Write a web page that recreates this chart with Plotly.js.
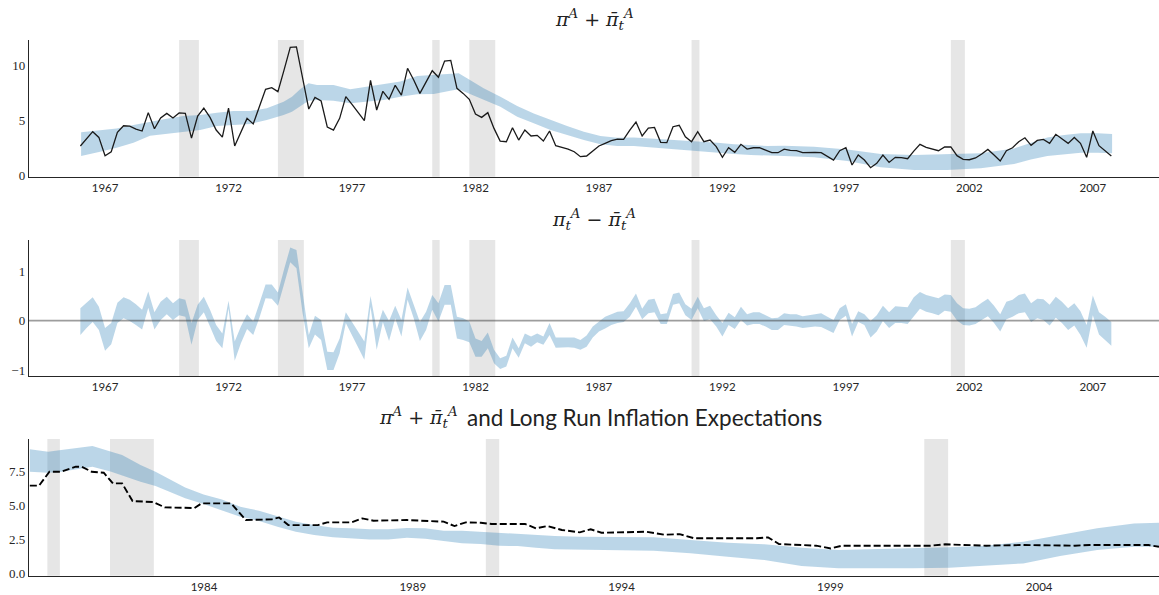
<!DOCTYPE html>
<html><head><meta charset="utf-8">
<script src="https://cdn.plot.ly/plotly-3.0.1.min.js"></script>
<style>html,body{margin:0;padding:0;background:#fff}</style>
</head><body><div id="chart" style="width:1159px;height:595px"></div>
<script>
// ---------------- data ----------------
const START_YEAR = 1966; // first quarter 1966Q1, quarterly series
const inflation = [2.64,3.3,3.94,3.42,1.76,2.12,3.88,4.48,4.45,4.18,4.0,5.67,4.21,5.18,5.6,5.18,5.64,5.6,3.36,5.36,
6.09,5.24,4.09,3.45,6.09,2.64,3.85,5.15,4.64,6.21,7.79,7.94,7.58,9.55,11.6,11.64,8.94,6.0,7.06,6.73,
4.36,4.09,5.15,7.12,6.42,5.7,4.94,8.6,5.91,7.61,6.88,8.15,7.27,9.7,8.64,7.42,8.48,9.48,8.88,10.36,
10.42,7.88,7.42,6.88,5.55,5.24,5.67,4.24,3.09,3.03,4.3,3.18,4.09,3.55,3.61,3.09,4.0,2.67,2.52,2.36,
2.12,1.67,1.73,2.21,2.64,2.88,3.12,3.27,3.24,4.09,4.82,3.55,4.27,4.33,2.97,2.94,4.39,4.52,3.48,3.03,
3.94,3.03,3.18,2.58,1.61,2.48,2.06,2.79,2.36,2.48,2.48,2.27,2.03,2.03,2.36,2.24,2.21,2.03,2.06,2.05,
2.03,1.73,1.36,2.21,2.48,0.91,1.82,1.36,0.67,1.06,1.82,1.15,1.61,1.58,1.48,2.18,2.79,2.52,2.36,2.21,
2.55,2.55,1.76,1.42,1.39,1.55,1.91,2.33,1.82,1.27,2.21,2.48,3.03,3.39,2.7,3.15,3.24,2.88,3.7,3.3,
2.88,3.42,2.88,1.61,4.0,2.67,2.21,1.73];

const trendYears = [1966.03,1966.8,1967.47,1968.15,1968.82,1969.5,1970.17,1970.85,1971.53,1972.2,1972.88,1973.55,1974.23,1974.57,1974.9,1975.24,1975.58,1976.25,1976.93,1977.6,
1978.28,1978.96,1979.64,1980.31,1980.98,1981.32,1981.66,1982.33,1983.01,1983.69,1984.36,1985.04,1985.71,1986.39,1987.06,1987.74,1988.41,1989.09,1989.77,1990.44,
1991.12,1991.8,1992.47,1993.15,1993.82,1994.5,1995.71,1997.06,1998.41,1999.76,2001.11,2002.46,2003.81,2004.49,2005.16,2005.84,2006.51,2007.19,2007.78];
const trendUpper = [3.88,4.09,4.24,4.55,4.85,5.12,5.36,5.45,5.67,5.82,5.82,6.06,6.67,7.12,7.79,8.33,8.18,8.18,7.79,8.03,
8.27,8.5,9.0,9.09,9.24,9.24,8.79,7.88,7.12,6.27,5.6,5.0,4.45,3.94,3.55,3.39,3.42,3.33,3.24,3.18,
3.03,2.94,2.79,2.7,2.64,2.67,2.58,2.33,1.91,1.82,1.88,1.97,2.42,2.94,3.42,3.64,3.79,3.79,3.73];
const trendLower = [1.73,2.12,2.48,2.94,3.58,3.79,3.94,4.09,4.45,4.55,4.64,5.0,5.45,5.76,6.27,6.76,6.82,6.76,6.52,6.67,
6.82,7.12,7.33,7.36,7.67,7.79,7.48,6.82,6.21,5.3,4.7,4.09,3.64,3.18,2.79,2.64,2.64,2.58,2.42,2.33,
2.18,2.03,1.91,1.82,1.76,1.73,1.61,1.27,0.7,0.45,0.45,0.61,1.0,1.42,1.73,1.91,2.03,2.03,1.97];

const gapUpper = [0.25,0.36,0.47,0.28,-0.15,-0.05,0.36,0.47,0.42,0.33,0.22,0.59,0.17,0.38,0.48,0.35,0.45,0.42,-0.05,0.32,
0.48,0.22,-0.09,-0.26,0.40,-0.42,-0.12,0.13,-0.02,0.35,0.73,0.73,0.57,1.04,1.48,1.43,0.59,-0.29,0.10,0.01,
-0.63,-0.64,-0.36,0.17,-0.03,-0.22,-0.42,0.50,-0.18,0.22,-0.01,0.30,0.01,0.67,0.33,-0.03,0.18,0.52,0.35,0.72,
0.72,0.08,0.05,-0.02,-0.36,-0.41,-0.24,-0.59,-0.76,-0.71,-0.34,-0.56,-0.26,-0.32,-0.26,-0.32,-0.05,-0.34,-0.34,-0.34,
-0.34,-0.39,-0.30,-0.12,-0.01,0.08,0.13,0.18,0.19,0.35,0.55,0.24,0.42,0.44,0.13,0.15,0.54,0.57,0.33,0.24,
0.48,0.25,0.30,0.11,-0.05,0.16,0.07,0.28,0.13,0.17,0.17,0.11,0.05,0.06,0.15,0.13,0.13,0.09,0.11,0.13,
0.15,0.08,0.01,0.25,0.33,-0.07,0.19,0.13,-0.01,0.11,0.30,0.17,0.29,0.28,0.27,0.47,0.58,0.52,0.49,0.45,
0.53,0.52,0.35,0.25,0.24,0.27,0.36,0.44,0.30,0.13,0.38,0.42,0.52,0.55,0.35,0.44,0.43,0.32,0.48,0.38,
0.25,0.35,0.19,-0.09,0.51,0.17,0.08,-0.03];
const gapLower = [-0.29,-0.15,-0.03,-0.19,-0.61,-0.48,-0.05,0.05,-0.01,-0.09,-0.18,0.26,-0.18,0.01,0.13,0.01,0.11,0.08,-0.49,0.01,
0.17,-0.12,-0.41,-0.56,0.25,-0.81,-0.46,-0.17,-0.29,0.06,0.45,0.44,0.30,0.72,1.18,1.06,0.15,-0.56,-0.28,-0.39,
-1.0,-1.0,-0.66,-0.05,-0.30,-0.55,-0.79,0.28,-0.59,-0.03,-0.41,0.05,-0.32,0.42,0.05,-0.41,-0.19,0.22,-0.02,0.32,
0.32,-0.36,-0.39,-0.44,-0.73,-0.73,-0.56,-0.86,-0.98,-0.93,-0.56,-0.75,-0.46,-0.53,-0.44,-0.49,-0.29,-0.55,-0.54,-0.54,
-0.55,-0.59,-0.53,-0.34,-0.22,-0.16,-0.09,-0.05,-0.03,0.08,0.28,0.03,0.15,0.17,-0.07,-0.07,0.32,0.35,0.11,0.01,
0.25,-0.01,0.03,-0.12,-0.32,-0.09,-0.17,0.01,-0.10,-0.07,-0.07,-0.12,-0.19,-0.19,-0.09,-0.10,-0.12,-0.15,-0.13,-0.12,
-0.13,-0.19,-0.25,0.01,0.10,-0.32,-0.03,-0.09,-0.34,-0.22,-0.01,-0.15,-0.05,-0.05,-0.07,0.09,0.24,0.18,0.15,0.11,
0.20,0.18,0.00,-0.09,-0.10,-0.07,0.01,0.09,-0.05,-0.22,0.03,0.08,0.15,0.17,-0.03,0.05,0.01,-0.10,0.06,-0.05,
-0.19,-0.10,-0.29,-0.55,0.11,-0.28,-0.39,-0.51];

const lrYears = [1979.83,1980.27,1980.58,1981.33,1981.78,1982.04,1982.48,1982.84,1983.55,1983.99,1984.43,1984.87,1985.32,1985.76,1986.2,1986.64,1987.09,1987.53,1987.97,1988.41,
1988.86,1989.3,1989.74,1990.18,1990.63,1991.07,1991.51,1991.95,1992.4,1993.0,1993.88,1994.77,1995.65,1996.54,1997.42,1998.31,1999.19,2000.08,2000.96,2001.85,
2002.73,2003.62,2004.5,2005.39,2006.27,2006.87];
const lrUpper = [9.09,8.92,9.04,9.33,8.92,8.67,7.94,7.45,6.30,5.79,5.42,4.89,4.59,4.20,3.79,3.54,3.35,3.30,3.23,3.23,
3.32,3.30,3.13,3.13,3.05,2.98,2.93,2.81,2.74,2.69,2.69,2.64,2.44,2.25,2.13,1.88,1.71,1.76,1.83,1.91,
2.03,2.32,2.81,3.30,3.66,3.71];
const lrLower = [7.45,7.38,7.45,7.82,7.45,7.21,6.72,6.40,5.50,5.08,4.64,4.15,3.84,3.42,3.05,2.81,2.64,2.54,2.49,2.49,
2.61,2.54,2.37,2.20,2.15,2.03,2.00,1.88,1.76,1.71,1.71,1.66,1.47,1.22,0.98,0.54,0.37,0.37,0.37,0.42,
0.56,0.73,1.27,1.71,1.95,1.95];

const expYears = [1979.83,1980.05,1980.3,1980.58,1980.93,1981.07,1981.31,1981.6,1981.82,1982.04,1982.29,1982.79,1983.06,1983.77,1983.94,1984.65,1985.0,1985.63,1985.8,1986.02,
1986.73,1986.95,1987.53,1987.79,1988.06,1988.86,1989.74,1990.0,1990.27,1990.63,1990.89,1991.69,1991.95,1992.22,1992.57,1993.0,1993.26,1993.52,1994.59,1995.03,
1995.39,1995.74,1997.24,1997.51,1997.77,1998.66,1999.01,1999.28,2001.4,2001.75,2002.73,2003.62,2004.85,2005.21,2006.62,2006.87];
const expValues = [6.43,6.43,7.45,7.45,7.82,7.82,7.45,7.38,6.60,6.60,5.30,5.23,4.84,4.79,5.13,5.13,3.91,3.96,4.10,3.54,
3.54,3.74,3.74,4.03,3.86,3.91,3.79,3.47,3.74,3.71,3.62,3.62,3.30,3.47,3.18,3.01,3.23,2.98,3.05,2.83,
2.88,2.57,2.57,2.64,2.15,2.03,1.83,2.03,2.03,2.13,2.03,2.08,2.03,2.08,2.08,1.95];

const recessionStart = [1970.0,1974.0,1980.25,1981.75,1990.75,2001.25];
const recessionEnd   = [1970.8,1975.05,1980.55,1982.8,1991.07,2001.82];

const ticksTop = [1967,1972,1977,1982,1987,1992,1997,2002,2007];
const ticksBottom = [1984,1989,1994,1999,2004];

// ---------------- chart ----------------
const quarters = inflation.map((_, i) => START_YEAR + i / 4);
const BAND = 'rgba(31,119,180,0.3)';
const SHADE = 'rgba(128,128,128,0.2)';
const INK = '#262626';

function band(xs, up, lo, xa, ya) {
  return {x: xs.concat(xs.slice().reverse()), y: up.concat(lo.slice().reverse()),
    xaxis: xa, yaxis: ya, mode: 'lines', fill: 'toself', fillcolor: BAND,
    line: {width: 0, color: BAND}, hoverinfo: 'skip', showlegend: false};
}

const traces = [
  band(trendYears, trendUpper, trendLower, 'x', 'y'),
  {x: quarters, y: inflation, xaxis: 'x', yaxis: 'y', mode: 'lines',
   line: {color: '#1a1a1a', width: 1.3}, showlegend: false},
  band(quarters, gapUpper, gapLower, 'x2', 'y2'),
  band(lrYears, lrUpper, lrLower, 'x3', 'y3'),
  {x: expYears, y: expValues, xaxis: 'x3', yaxis: 'y3', mode: 'lines',
   line: {color: '#000', width: 1.9, dash: '7px,3px'}, showlegend: false}
];

const xr12 = [1963.92, 2009.68];
const xr3 = [1979.81, 2006.87];
const shapes = [];
[['x', 'y', xr12], ['x2', 'y2', xr12], ['x3', 'y3', xr3]].forEach(([xa, ya, r]) => {
  recessionStart.forEach((s, k) => {
    const e = recessionEnd[k];
    if (e < r[0] || s > r[1]) return;
    shapes.push({type: 'rect', xref: xa, yref: ya + ' domain', x0: Math.max(s, r[0]), x1: Math.min(e, r[1]),
      y0: 0, y1: 1, fillcolor: SHADE, line: {width: 0}, layer: 'below'});
  });
});
shapes.push({type: 'line', xref: 'x2 domain', yref: 'y2', x0: 0, x1: 1, y0: 0, y1: 0,
  line: {color: 'rgba(60,60,60,0.5)', width: 1.8}, layer: 'above'});

const xFont = {family: 'Lato, sans-serif', size: 11.5, color: INK};
const yFont = {family: 'Liberation Serif, serif', size: 13, color: INK};
function xAxis(range, ticks, anchor) {
  return {domain: [0, 1], range: range, anchor: anchor, tickvals: ticks, ticktext: ticks.map(String),
    showline: true, linecolor: INK, linewidth: 1.4, ticks: '', showgrid: false, zeroline: false,
    tickfont: xFont, fixedrange: true};
}
function yAxis(domain, range, ticks, anchor, fmt) {
  return {domain: domain, range: range, anchor: anchor, tickvals: ticks, tickformat: fmt,
    showline: true, linecolor: INK, linewidth: 1.25, ticks: '', showgrid: false, zeroline: false,
    tickfont: yFont, fixedrange: true};
}

const pbar = 'π\u0304';
const t1 = `<i>π</i><sup><i>A</i></sup> + <i>${pbar}</i><sub><i>t</i></sub><sup><i>A</i></sup>`;
const t2 = `<i>π</i><sub><i>t</i></sub><sup><i>A</i></sup> − <i>${pbar}</i><sub><i>t</i></sub><sup><i>A</i></sup>`;
const MATH_FONT = {family: 'DejaVu Serif, serif', size: 19, color: '#222'};
const TEXT_FONT = {family: 'Lato, sans-serif', size: 22.5, color: '#222'};

function note(text, xp, ypx, anchor, font) {
  return {text: text, xref: 'paper', yref: 'paper', x: xp, y: 1 - ypx / 595, xanchor: anchor, yanchor: 'middle',
    showarrow: false, font: font};
}

const layout = {
  width: 1159, height: 595,
  margin: {l: 29, r: 0, t: 0, b: 0},
  paper_bgcolor: '#fff', plot_bgcolor: 'rgba(0,0,0,0)',
  showlegend: false,
  xaxis: xAxis(xr12, ticksTop, 'y'),
  yaxis: yAxis([1 - 176.7 / 595, 1 - 40 / 595], [-0.15, 12.27], [0, 5, 10], 'x', 'd'),
  xaxis2: xAxis(xr12, ticksTop, 'y2'),
  yaxis2: yAxis([1 - 376 / 595, 1 - 240 / 595], [-1.12, 1.63], [-1, 0, 1], 'x2', 'd'),
  xaxis3: xAxis(xr3, ticksBottom, 'y3'),
  yaxis3: yAxis([1 - 575.7 / 595, 1 - 439 / 595], [-0.17, 9.85], [0, 2.5, 5, 7.5], 'x3', '.1f'),
  shapes: shapes,
  annotations: [
    note(t1, 0.5, 19, 'center', MATH_FONT),
    note(t2, 0.5, 219, 'center', MATH_FONT),
    note(t1, (460 - 29) / 1130, 417, 'right', MATH_FONT),
    note('and Long Run Inflation Expectations', (465 - 29) / 1130, 417, 'left', TEXT_FONT)
  ]
};

Plotly.newPlot('chart', traces, layout, {staticPlot: true, displayModeBar: false});
</script>
</body></html>
